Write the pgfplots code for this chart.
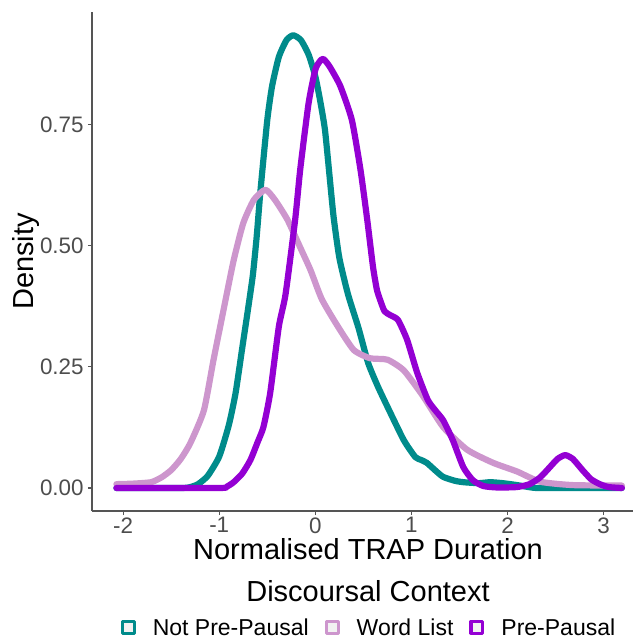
\documentclass[border=0pt]{standalone}
\usepackage{fontspec}
\setmainfont{Liberation Sans}
\usepackage{pgfplots}
\pgfplotsset{compat=1.18}
\definecolor{tealc}{HTML}{008B8B}
\definecolor{plumc}{HTML}{CD96CD}
\definecolor{purpc}{HTML}{9400D3}
\definecolor{keyfill}{HTML}{F2F2F2}
\definecolor{axgray}{HTML}{555555}
\definecolor{labgray}{HTML}{4D4D4D}
\begin{document}
\begin{tikzpicture}
\useasboundingbox (0,0) rectangle (316.5pt,319.5pt);
\begin{axis}[
  at={(46pt,64pt)}, anchor=south west,
  scale only axis, width=276pt, height=249.5pt,
  xmin=-2.324, xmax=3.42, ymin=-0.0475, ymax=0.983,
  axis x line*=bottom, axis y line*=left,
  axis line style={-, line width=0.55pt, color=axgray},
  xtick={-2,-1,0,1,2,3}, xticklabels={-2,-1,0,1,2,3},
  ytick={0,0.25,0.5,0.75}, yticklabels={0.00,0.25,0.50,0.75},
  tick align=outside, major tick length=2pt,
  tick style={line width=0.55pt, color=axgray},
  ticklabel style={font=\fontsize{11.2}{13}\selectfont, text=labgray, inner sep=0pt},
  xticklabel style={yshift=-1pt},
  yticklabel style={xshift=-2pt},
  legend columns=3,
  legend cell align=left,
  legend style={at={(0.5,0)}, anchor=south, yshift=-63.5pt, draw=none, fill=none,
    inner sep=0pt, outer sep=0pt, font=\fontsize{11.5}{13}\selectfont,
    nodes={inner sep=0pt},
    /tikz/every odd column/.append style={column sep=8.5pt},
    /tikz/every even column/.append style={column sep=8pt}},
  legend image code/.code={\draw[line width=1.6pt, fill=keyfill] (0.8pt,-2.5pt) rectangle (6.7pt,3.4pt);},
  every axis plot/.append style={line width=3.1pt, line join=round, line cap=round, smooth, tension=0.35},
]
\addplot[tealc] coordinates {
(-2.07,0) (-1.40,0) (-1.30,0.002) (-1.22,0.008) (-1.12,0.025) (-1.00,0.065)
(-0.90,0.13) (-0.83,0.196) (-0.76,0.29) (-0.70,0.37) (-0.65,0.44) (-0.61,0.52)
(-0.57,0.616) (-0.50,0.76) (-0.45,0.83) (-0.38,0.89) (-0.30,0.925) (-0.23,0.935)
(-0.15,0.925) (-0.07,0.895) (0.00,0.85) (0.05,0.80) (0.10,0.74) (0.15,0.64)
(0.19,0.56) (0.25,0.475) (0.34,0.40) (0.45,0.33) (0.55,0.258) (0.65,0.21)
(0.75,0.168) (0.92,0.099) (1.04,0.064) (1.10,0.058) (1.16,0.052) (1.25,0.036)
(1.33,0.023) (1.45,0.015) (1.54,0.012) (1.70,0.010) (1.82,0.012) (1.95,0.010)
(2.10,0.006) (2.25,0.001) (2.35,0) (3.19,0)
};
\addlegendentry{Not Pre-Pausal}
\addplot[plumc] coordinates {
(-2.07,0.008) (-1.90,0.009) (-1.71,0.012) (-1.60,0.022) (-1.50,0.037) (-1.40,0.06)
(-1.30,0.093) (-1.16,0.16) (-1.06,0.264) (-0.955,0.368) (-0.85,0.47) (-0.75,0.547)
(-0.64,0.595) (-0.52,0.616) (-0.42,0.595) (-0.29,0.554) (-0.16,0.498) (-0.05,0.45)
(0.067,0.39) (0.23,0.335) (0.40,0.285) (0.57,0.268) (0.75,0.265) (0.92,0.243)
(1.12,0.19) (1.33,0.126) (1.58,0.079) (1.85,0.052) (2.10,0.034) (2.34,0.013)
(2.68,0.006) (3.19,0.005)
};
\addlegendentry{Word List}
\addplot[purpc] coordinates {
(-2.07,0) (-1.00,0) (-0.92,0.003) (-0.85,0.012) (-0.76,0.03) (-0.675,0.058)
(-0.60,0.095) (-0.54,0.126) (-0.47,0.196) (-0.38,0.333) (-0.31,0.40) (-0.21,0.554)
(-0.156,0.66) (-0.07,0.795) (0.00,0.864) (0.05,0.882) (0.085,0.886) (0.15,0.87)
(0.26,0.83) (0.38,0.76) (0.47,0.657) (0.54,0.554) (0.60,0.457) (0.64,0.41)
(0.675,0.388) (0.72,0.365) (0.78,0.357) (0.86,0.347) (0.955,0.306) (1.06,0.238)
(1.17,0.182) (1.25,0.16) (1.33,0.14) (1.43,0.099) (1.54,0.043) (1.64,0.016)
(1.75,0.004) (1.90,0.001) (2.10,0.002) (2.23,0.008) (2.34,0.022) (2.44,0.043)
(2.52,0.06) (2.60,0.068) (2.68,0.06) (2.78,0.037) (2.87,0.018) (2.96,0.008)
(3.05,0.002) (3.19,0)
};
\addlegendentry{Pre-Pausal}
\end{axis}
\node[rotate=90, font=\fontsize{14.5}{17}\selectfont] at (13pt,188.75pt) {Density};
\node[anchor=base, font=\fontsize{14.5}{17}\selectfont] at (184pt,39.5pt) {Normalised TRAP Duration};
\node[anchor=base, font=\fontsize{14.5}{17}\selectfont] at (184pt,18.6pt) {Discoursal Context};
\end{tikzpicture}
\end{document}
